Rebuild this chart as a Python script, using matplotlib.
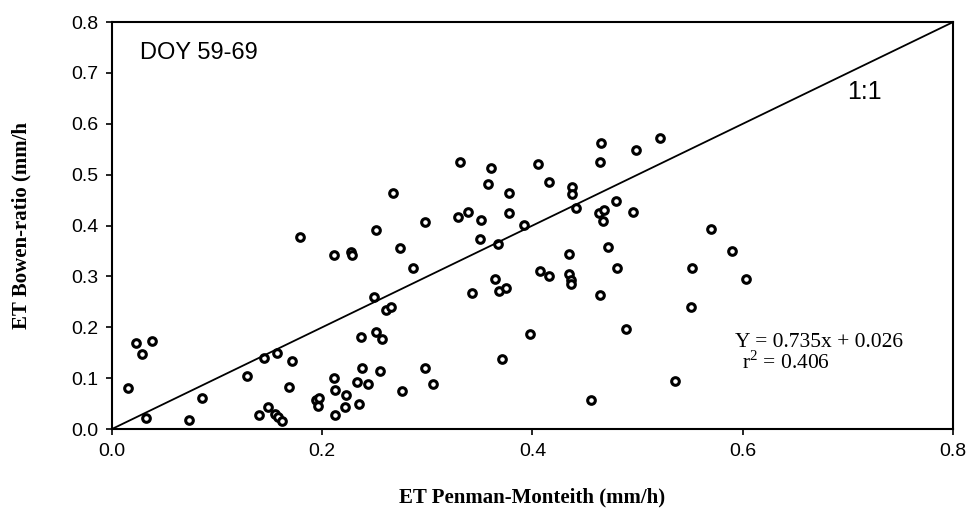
import matplotlib
matplotlib.use('Agg')
import matplotlib.pyplot as plt

plt.rcParams['mathtext.fontset'] = 'custom'
plt.rcParams['mathtext.rm'] = 'Liberation Serif'

# ET Penman-Monteith (x) vs ET Bowen-ratio (y), mm/h
et_pm = [0.015, 0.023, 0.029, 0.038, 0.032, 0.073, 0.086, 0.128, 0.140, 0.145,
         0.148, 0.155, 0.158, 0.162, 0.157, 0.171, 0.168, 0.179, 0.194, 0.196,
         0.197, 0.211, 0.212, 0.212, 0.222, 0.223, 0.233, 0.235, 0.238, 0.244,
         0.237, 0.211, 0.227, 0.228, 0.251, 0.257, 0.255, 0.249, 0.251, 0.267,
         0.274, 0.261, 0.265, 0.276, 0.286, 0.298, 0.298, 0.305, 0.329, 0.331,
         0.339, 0.351, 0.350, 0.342, 0.361, 0.358, 0.367, 0.364, 0.368, 0.375,
         0.378, 0.378, 0.371, 0.398, 0.392, 0.405, 0.407, 0.416, 0.416, 0.438,
         0.438, 0.441, 0.465, 0.464, 0.498, 0.521, 0.479, 0.463, 0.468, 0.467,
         0.496, 0.435, 0.472, 0.435, 0.437, 0.437, 0.480, 0.464, 0.489, 0.456,
         0.536, 0.570, 0.590, 0.603, 0.552, 0.551]
et_br = [0.080, 0.170, 0.147, 0.173, 0.022, 0.018, 0.061, 0.104, 0.027, 0.139,
         0.043, 0.030, 0.024, 0.016, 0.149, 0.134, 0.083, 0.378, 0.058, 0.046,
         0.061, 0.100, 0.076, 0.028, 0.044, 0.067, 0.092, 0.050, 0.120, 0.088,
         0.181, 0.342, 0.348, 0.342, 0.191, 0.177, 0.115, 0.260, 0.391, 0.464,
         0.356, 0.234, 0.240, 0.075, 0.316, 0.406, 0.120, 0.088, 0.416, 0.525,
         0.427, 0.411, 0.373, 0.267, 0.513, 0.481, 0.364, 0.295, 0.272, 0.278,
         0.464, 0.424, 0.138, 0.186, 0.402, 0.521, 0.310, 0.301, 0.486, 0.476,
         0.462, 0.435, 0.563, 0.525, 0.548, 0.572, 0.448, 0.424, 0.430, 0.408,
         0.426, 0.344, 0.357, 0.304, 0.293, 0.285, 0.316, 0.263, 0.197, 0.058,
         0.095, 0.394, 0.350, 0.294, 0.317, 0.240]
one_to_one = [0.0, 0.8]

fig = plt.figure(figsize=(9.71, 5.26), dpi=100)
ax = fig.add_axes([0.1153, 0.1844, 0.8662, 0.7736])

ax.plot(et_pm, et_br, 'o', mfc='white', mec='black', ms=5.5, mew=2.2, ls='none')
ax.plot(one_to_one, one_to_one, color='black', lw=1.3)

ax.set_xlim(0, 0.8)
ax.set_ylim(0, 0.8)
ax.set_xticks([0.0, 0.2, 0.4, 0.6, 0.8])
ax.set_yticks([0.0, 0.1, 0.2, 0.3, 0.4, 0.5, 0.6, 0.7, 0.8])
ax.set_xticklabels(['0.0', '0.2', '0.4', '0.6', '0.8'], family='Liberation Sans', fontsize=14)
ax.set_yticklabels(['%.1f' % v for v in ax.get_yticks()], family='Liberation Sans', fontsize=14)
ax.tick_params(direction='out', length=4, width=1.2, pad=6)
for s in ax.spines.values():
    s.set_linewidth(1.5)

ax.set_xlabel('ET Penman-Monteith (mm/h)', family='Liberation Serif', fontweight='bold',
              fontsize=15, labelpad=20)
ax.set_ylabel('ET Bowen-ratio (mm/h', family='Liberation Serif', fontweight='bold',
              fontsize=15, labelpad=28)

ax.text(0.027, 0.74, 'DOY 59-69', family='Liberation Sans', fontsize=17, va='center')
ax.text(0.716, 0.662, '1:1', family='Liberation Sans', fontsize=18, ha='center', va='center')
ax.text(0.593, 0.171, 'Y = 0.735x + 0.026', family='Liberation Serif', fontsize=15.5, va='center')
ax.text(0.599, 0.13, 'r$^2$ = 0.406', family='Liberation Serif', fontsize=15.5, va='center')

fig.savefig('out.png', dpi=100)
